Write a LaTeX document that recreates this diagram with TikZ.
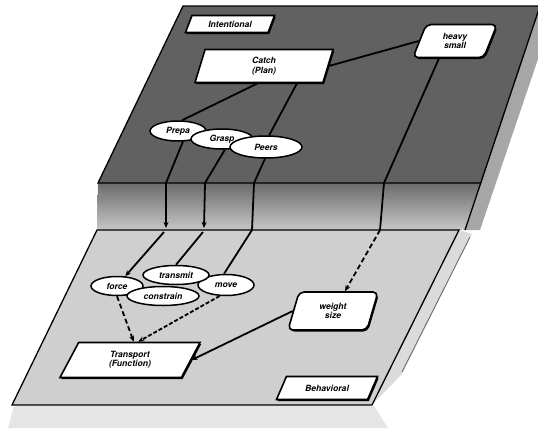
\documentclass[tikz,border=0pt]{standalone}
\usepackage{fontspec}
\setsansfont{TeX Gyre Heros}
\usetikzlibrary{shapes.geometric,arrows.meta,calc,shadows}
\begin{document}
\begin{tikzpicture}[x=1pt,y=-1pt,
  lbl/.style={font=\sffamily\bfseries\itshape\fontsize{8.6}{9.4}\selectfont, align=center},
  pbox/.style={lbl, shape=trapezium, trapezium stretches body=true, draw, line width=1.6pt,
     fill=white, inner sep=0pt,
     drop shadow={fill=black, opacity=1, shadow xshift=1.2pt, shadow yshift=-1.6pt}},
  slant/.style={trapezium left angle=#1, trapezium right angle=180-#1},
  rbox/.style={pbox, rounded corners=5pt},
  oval/.style={lbl, ellipse, draw, line width=1.5pt, fill=white, inner sep=0pt},
  conn/.style={line width=1.8pt},
  tip/.style={-{Stealth[length=6pt,width=5pt]}},
  plane/.style={line width=1.3pt},
]
\useasboundingbox (0,0) rectangle (538,434);
\clip (0,0) rectangle (538,434);
% shadows
\fill[black!10] (14,406) -- (374,406) -- (388,428) -- (8,428) -- cycle;
\fill[black!14] (459,230) -- (472,234) -- (402,374) -- (372,405) -- cycle;
\draw[black!60, line width=0.8pt] (470,237) -- (402,372);
\fill[black!35] (540,6) -- (556,6) -- (480,230) -- (465,230) -- cycle;
% lower plane
\fill[black!19] (97,230) -- (459,230) -- (372,405) -- (12,405) -- cycle;
% top plane
\fill[black!62] (183,6) -- (540,6) -- (481,183) -- (98,183) -- cycle;
\shade[top color=black!58, bottom color=black!22] (98,183) -- (481,183) -- (465,230) -- (97,230) -- cycle;
\draw[plane] (540,6) -- (183,6) -- (98,183) -- (481,183);
\draw[plane] (540,6) -- (465,230);
\draw[plane] (97,230) -- (459,230) -- (372,405) -- (12,405) -- cycle;

% top nodes
\node[pbox, slant=45, minimum width=89pt, minimum height=17pt] (intent) at (230,24) {Intentional};
\node[pbox, slant=60, minimum width=138pt, minimum height=33pt] (catch) at (264,66) {Catch\\(Plan)};
\node[rbox, slant=50, minimum width=84pt, minimum height=33pt] (heavy) at (455,41) {heavy\\small};
\node[oval, minimum width=56pt, minimum height=20pt] (e1) at (178,131) {Prepa};
\node[oval, minimum width=62pt, minimum height=20pt] (e2) at (222,139) {Grasp};
\node[oval, minimum width=72pt, minimum height=22pt] (e3) at (266,147) {Peers};

% lower nodes
\node[oval, minimum width=56pt, minimum height=21pt] (move) at (226,285) {move};
\node[oval, minimum width=52pt, minimum height=19pt] (force) at (117,286) {force};
\node[oval, minimum width=66pt, minimum height=19pt] (transmit) at (176,275) {transmit};
\node[oval, minimum width=72pt, minimum height=19pt] (constrain) at (163,296) {constrain};
\node[pbox, slant=43, minimum width=140pt, minimum height=35pt] (transport) at (130,360) {Transport\\(Function)};
\node[rbox, slant=55, minimum width=90pt, minimum height=38pt] (weight) at (333,311) {weight\\size};
\node[pbox, slant=33, minimum width=101pt, minimum height=23pt] (behav) at (327,388) {Behavioral};

% waypoints
\coordinate (p1a) at (166,183); \coordinate (p1b) at (166,228); \coordinate (p1c) at (164,232);
\coordinate (p2a) at (205,183); \coordinate (p2b) at (204,228); \coordinate (p2c) at (203,232);
\coordinate (p3a) at (254,183); \coordinate (p3b) at (252,230);
\coordinate (p4a) at (384,183); \coordinate (p4b) at (380,230);

% top connectors
\draw[conn] (catch.east) -- (heavy.west);
\draw[conn] ($(catch.south west)+(11,0)$) -- (e1.70);
\draw[conn] ($(catch.south)+(33,0)$) -- (e3.75);
\draw[conn, tip] (e1.295) -- (p1a) -- (p1b);
\draw[conn, tip] (p1c) -- (force.50);
\draw[conn, tip] (e2.285) -- (p2a) -- (p2b);
\draw[conn] (p2c) -- (transmit.north);
\draw[conn] (e3.265) -- (p3a) -- (p3b) -- (move.100);
\draw[conn] ($(heavy.south)+(-16,0)$) -- (p4a) -- (p4b);
\draw[conn, tip, dashed, dash pattern=on 5pt off 3pt] (p4b) -- ($(weight.north)+(12,0)$);

% lower connectors
\draw[conn, tip, dashed, dash pattern=on 5pt off 3pt] (force.south) -- ($(transport.north west)+(22,0)$);
\draw[conn, tip, dashed, dash pattern=on 4pt off 2pt] (move.240) -- ($(transport.north east)+(-10,0)$);
\draw[conn, tip] (weight.west) -- (transport.east);
\end{tikzpicture}
\end{document}
